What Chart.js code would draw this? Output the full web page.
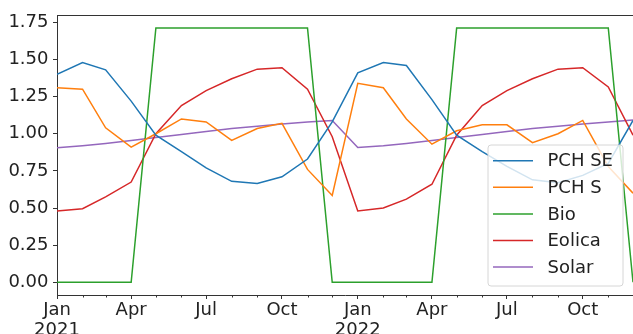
<!DOCTYPE html>
<html><head><meta charset="utf-8">
<script src="https://cdn.jsdelivr.net/npm/chart.js@4/dist/chart.umd.min.js"></script>
<style>html,body{margin:0;padding:0;background:#fff;}#wrap{width:633px;height:334px;position:relative;}</style>
</head><body><div id="wrap"><canvas id="c" width="633" height="334"></canvas></div>
<script>
const months = ["2021-01","2021-02","2021-03","2021-04","2021-05","2021-06","2021-07","2021-08","2021-09","2021-10","2021-11","2021-12",
                "2022-01","2022-02","2022-03","2022-04","2022-05","2022-06","2022-07","2022-08","2022-09","2022-10","2022-11","2022-12"];
const pchSE  = [1.40,1.48,1.43,1.22,0.99,0.88,0.77,0.68,0.665,0.71,0.83,1.08, 1.41,1.48,1.46,1.23,0.99,0.88,0.78,0.69,0.67,0.72,0.80,1.09];
const pchS   = [1.31,1.30,1.04,0.91,1.00,1.10,1.08,0.955,1.035,1.07,0.76,0.585, 1.34,1.31,1.10,0.93,1.02,1.06,1.06,0.94,1.00,1.09,0.78,0.60];
const bio    = [0,0,0,0,1.712,1.712,1.712,1.712,1.712,1.712,1.712,0, 0,0,0,0,1.712,1.712,1.712,1.712,1.712,1.712,1.712,0];
const eolica = [0.48,0.495,0.575,0.675,1.00,1.19,1.29,1.37,1.435,1.445,1.30,0.98, 0.48,0.50,0.56,0.66,0.99,1.19,1.29,1.37,1.435,1.445,1.315,0.99];
const solar  = [0.905,0.92,0.935,0.955,0.975,0.995,1.015,1.035,1.05,1.065,1.08,1.09, 0.908,0.92,0.935,0.955,0.975,0.995,1.015,1.035,1.05,1.065,1.08,1.092];
const seriesNames = ["PCH SE","PCH S","Bio","Eolica","Solar"];
const yTicks = [0,0.25,0.5,0.75,1.0,1.25,1.5,1.75];
const monthNames = {1:"Jan",4:"Apr",7:"Jul",10:"Oct"};

const colors = ["#1f77b4","#ff7f0e","#2ca02c","#d62728","#9467bd"];
const t0 = Date.UTC(2021,0,1);
function dayOf(m){const [y,mo]=m.split("-").map(Number);return (Date.UTC(y,mo-1,1)-t0)/86400000;}
function monthNum(m){return Number(m.split("-")[1]);}
const allSeries=[pchSE,pchS,bio,eolica,solar];
const FONT = "'DejaVu Sans', sans-serif";

const frame = {
  id:'frame',
  afterDraw(chart){
    const ctx=chart.ctx, a=chart.chartArea, xs=chart.scales.x;
    ctx.save();
    ctx.strokeStyle='#333'; ctx.lineWidth=1;
    ctx.beginPath(); ctx.moveTo(a.left, Math.round(a.top)+0.5); ctx.lineTo(a.right, Math.round(a.top)+0.5); ctx.stroke();
    months.forEach(m=>{
      if(monthNames[monthNum(m)]) return;
      const px=Math.round(xs.getPixelForValue(dayOf(m)))+0.5;
      ctx.beginPath(); ctx.moveTo(px,a.bottom); ctx.lineTo(px,a.bottom+2.5); ctx.stroke();
    });
    const lx=488, ly=145, lw=135, lh=141, r=3;
    ctx.beginPath();
    ctx.moveTo(lx+r,ly); ctx.lineTo(lx+lw-r,ly); ctx.quadraticCurveTo(lx+lw,ly,lx+lw,ly+r);
    ctx.lineTo(lx+lw,ly+lh-r); ctx.quadraticCurveTo(lx+lw,ly+lh,lx+lw-r,ly+lh);
    ctx.lineTo(lx+r,ly+lh); ctx.quadraticCurveTo(lx,ly+lh,lx,ly+lh-r);
    ctx.lineTo(lx,ly+r); ctx.quadraticCurveTo(lx,ly,lx+r,ly); ctx.closePath();
    ctx.fillStyle='rgba(255,255,255,0.8)'; ctx.fill();
    ctx.strokeStyle='#d6d6d6'; ctx.lineWidth=1; ctx.stroke();
    ctx.font="18px "+FONT; ctx.textBaseline='middle'; ctx.textAlign='left';
    chart.data.datasets.forEach((ds,i)=>{
      const y=160.7+i*26.6;
      ctx.strokeStyle=ds.borderColor; ctx.lineWidth=1.5;
      ctx.beginPath(); ctx.moveTo(493,y); ctx.lineTo(533,y); ctx.stroke();
      ctx.fillStyle='#222'; ctx.fillText(ds.label,547.5,y+1);
    });
    ctx.restore();
  }
};

new Chart(document.getElementById('c'),{
  type:'line',
  data:{datasets: seriesNames.map((n,i)=>({
    label:n,
    data: months.map((m,j)=>({x:dayOf(m), y:allSeries[i][j]})),
    borderColor:colors[i], backgroundColor:colors[i],
    borderWidth:1.5, pointRadius:0, tension:0, fill:false
  }))},
  options:{
    responsive:false, animation:false, devicePixelRatio:1,
    layout:{padding:{top:13,right:0,left:0,bottom:0}},
    plugins:{legend:{display:false}, tooltip:{enabled:false}},
    scales:{
      x:{type:'linear', min:dayOf(months[0]), max:dayOf(months[months.length-1]),
        afterBuildTicks(s){ s.ticks = months.filter(m=>monthNames[monthNum(m)]).map(m=>({value:dayOf(m)})); },
        ticks:{autoSkip:false, maxRotation:0, minRotation:0, padding:0.5, color:'#222', font:{family:FONT,size:18,lineHeight:1.15},
          callback(v){ const m=months.find(mm=>dayOf(mm)===v); if(!m) return ''; const n=monthNum(m); return n===1?[monthNames[n], m.split('-')[0]]:monthNames[n]; }},
        grid:{drawOnChartArea:false, drawTicks:true, tickLength:4, tickColor:'#333', tickWidth:1},
        border:{display:true, color:'#333', width:1},
        afterFit(s){ s.height=39; }
      },
      y:{type:'linear', min:-0.0856, max:1.7976,
        afterBuildTicks(s){ s.ticks = yTicks.map(v=>({value:v})); },
        ticks:{padding:4.5, color:'#222', font:{family:FONT,size:18}, callback(v){return Number(v).toFixed(2);}},
        grid:{drawOnChartArea:false, drawTicks:true, tickLength:4, tickColor:'#333', tickWidth:1},
        border:{display:true, color:'#333', width:1},
        afterFit(s){ s.width=57; }
      }
    }
  },
  plugins:[frame]
});
</script></body></html>
